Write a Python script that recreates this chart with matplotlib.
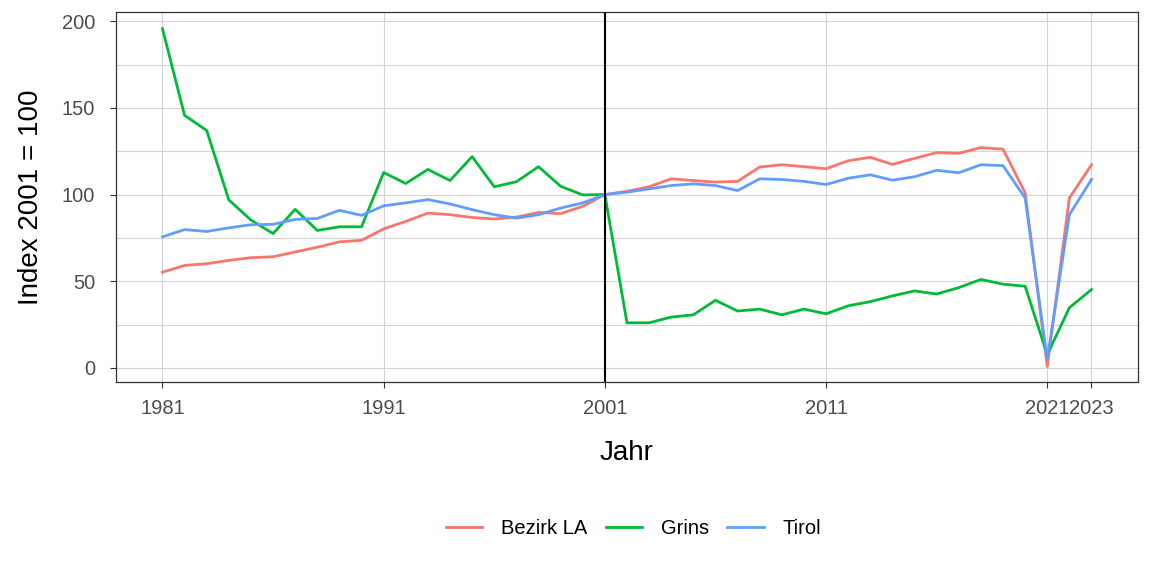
import numpy as np
import matplotlib
matplotlib.use("Agg")
import matplotlib.pyplot as plt

plt.rcParams['font.family'] = ['Liberation Sans', 'DejaVu Sans']

# Data (Index 2001 = 100)
years = list(range(1981, 2024))

bezirk_la = [55.2, 59.1, 60.1, 62.0, 63.6, 64.1, 66.9, 69.6, 72.7, 73.6,
             80.2, 84.5, 89.3, 88.4, 86.8, 85.9, 87.0, 89.7, 89.0, 93.2,
             100.0, 101.9, 104.5, 109.1, 108.1, 107.2, 107.6, 115.9, 117.2, 116.1,
             114.9, 119.5, 121.5, 117.4, 120.9, 124.2, 123.8, 127.1, 126.2, 101.0,
             0.8, 98.0, 117.2]

grins = [195.7, 145.7, 137.0, 96.9, 85.3, 77.5, 91.5, 79.3, 81.4, 81.4,
         112.7, 106.4, 114.5, 108.1, 121.9, 104.5, 107.4, 116.1, 104.8, 99.8,
         100.0, 26.0, 26.0, 29.3, 30.6, 39.0, 32.8, 33.9, 30.6, 33.9,
         31.2, 35.8, 38.2, 41.5, 44.4, 42.6, 46.3, 51.0, 48.3, 47.1,
         7.6, 34.7, 45.2]

tirol = [75.6, 79.8, 78.7, 80.8, 82.6, 82.8, 85.7, 86.2, 90.9, 88.0,
         93.5, 95.2, 97.1, 94.6, 91.3, 88.4, 86.4, 88.4, 92.2, 95.2,
         100.0, 101.4, 103.3, 105.2, 106.2, 105.2, 102.3, 109.1, 108.7, 107.6,
         105.8, 109.4, 111.4, 108.3, 110.3, 114.0, 112.6, 117.2, 116.7, 98.0,
         5.0, 88.4, 108.7]

series = [("Bezirk LA", bezirk_la, "#F8766D"),
          ("Grins", grins, "#00BA38"),
          ("Tirol", tirol, "#619CFF")]

x_ticks = [1981, 1991, 2001, 2011, 2021, 2023]

fig = plt.figure(figsize=(11.52, 5.76), dpi=100)
ax = fig.add_axes([0.1007, 0.337, 0.8871, 0.642])

for name, vals, col in series:
    ax.plot(years, vals, color=col, lw=2.0, label=name, zorder=3)

ax.axvline(2001, color="black", lw=1.5, zorder=4)

ax.set_xlim(1978.9, 2025.1)
ax.set_ylim(-8.1, 205.3)
ax.set_xticks(x_ticks)
ax.set_yticks([0, 50, 100, 150, 200])
ax.set_yticks([25, 75, 125, 175], minor=True)
ax.grid(True, which="major", color="#d4d4d4", lw=0.8, zorder=0)
ax.grid(True, which="minor", axis="y", color="#d4d4d4", lw=0.8, zorder=0)
ax.tick_params(axis="both", which="major", length=4.5, color="#333333",
               labelsize=14.5, labelcolor="#4d4d4d", pad=8)
ax.tick_params(axis="y", which="major", pad=10.5)
ax.tick_params(axis="y", which="minor", length=0)
for s in ax.spines.values():
    s.set_color("#333333")
    s.set_linewidth(0.9)

ax.set_xlabel("Jahr", fontsize=20, labelpad=15.5)
ax.set_ylabel("Index 2001 = 100", fontsize=20, labelpad=13)

fig.legend(loc="center", bbox_to_anchor=(0.55, 0.083), ncol=3, frameon=False,
           fontsize=14.5, handlelength=1.8, columnspacing=0.9, handletextpad=0.95)

fig.savefig("out.png", dpi=100)
